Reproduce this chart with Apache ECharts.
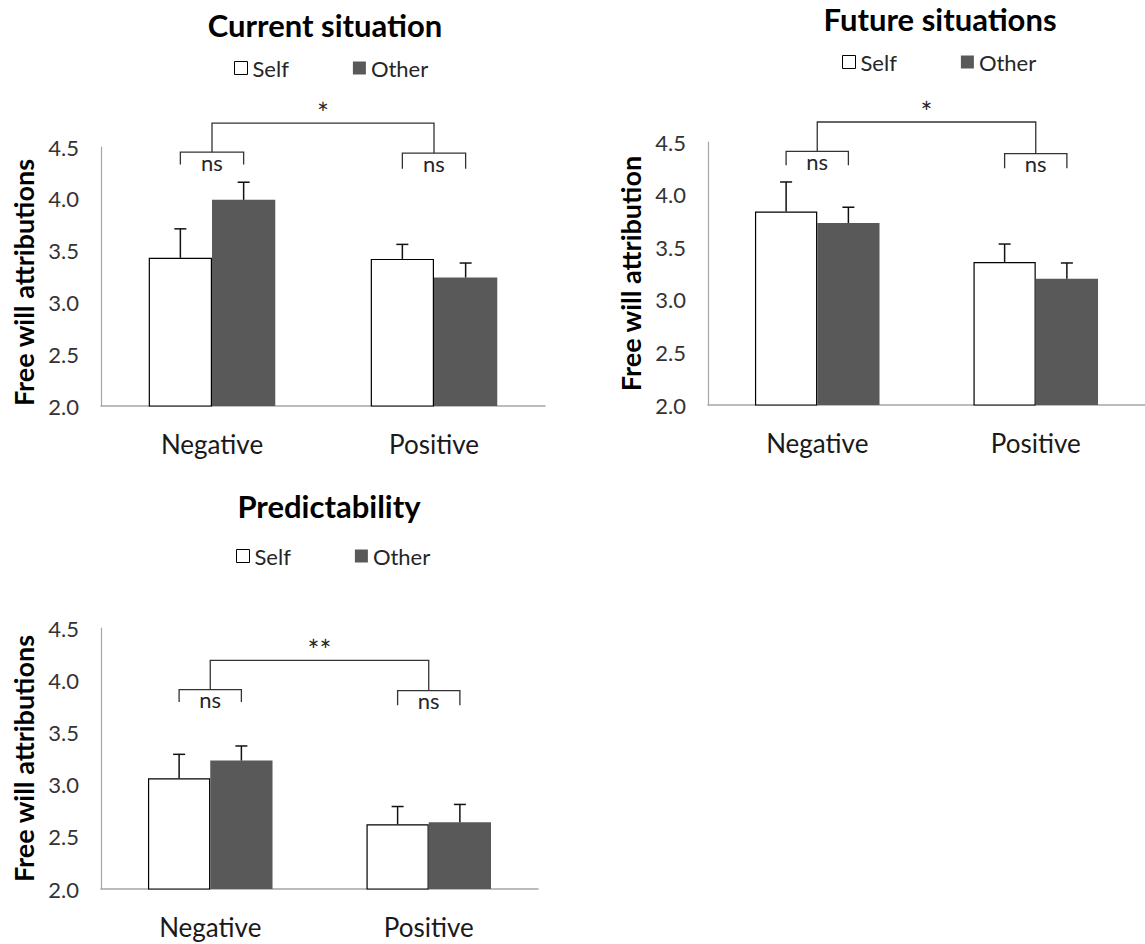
<!DOCTYPE html>
<html>
<head>
    <meta charset="utf-8">
    <title>Free will attributions</title>
    <script src="https://cdn.jsdelivr.net/npm/echarts@6/dist/echarts.min.js"></script>
</head>
<body style="margin:0; background:#fff;">
    <div id="chart" style="width: 1145px; height: 944px;"></div>
    <script>
        // categories shared by the three panels
        var categories = ['Negative', 'Positive'];

        // Current situation
        var currentSelf = [3.43, 3.42];
        var currentOther = [3.99, 3.24];
        var currentSelfTop = [3.71, 3.56];   // upper end of error bar
        var currentOtherTop = [4.16, 3.38];
        var currentPairSig = ['ns', 'ns'];
        var currentMainSig = '*';
        var currentPairY = [4.45, 4.44];     // bracket heights, in axis units
        var currentPairLeg = [4.33, 4.29];
        var currentMainY = 4.73;

        // Future situations
        var futureSelf = [3.84, 3.36];
        var futureOther = [3.73, 3.20];
        var futureSelfTop = [4.12, 3.53];
        var futureOtherTop = [3.88, 3.35];
        var futurePairSig = ['ns', 'ns'];
        var futureMainSig = '*';
        var futurePairY = [4.41, 4.39];
        var futurePairLeg = [4.28, 4.25];
        var futureMainY = 4.69;

        // Predictability
        var predSelf = [3.06, 2.62];
        var predOther = [3.23, 2.64];
        var predSelfTop = [3.29, 2.79];
        var predOtherTop = [3.37, 2.81];
        var predPairSig = ['ns', 'ns'];
        var predMainSig = '**';
        var predPairY = [3.91, 3.90];
        var predPairLeg = [3.79, 3.76];
        var predMainY = 4.19;

        var FONT = 'Lato';
        var GAP = 0.43;  // barCategoryGap as a fraction

        var panels = [
            {
                title: 'Current situation', yName: 'Free will attributions',
                self: currentSelf, other: currentOther, selfTop: currentSelfTop, otherTop: currentOtherTop,
                pairSig: currentPairSig, mainSig: currentMainSig,
                pairY: currentPairY, pairLeg: currentPairLeg, mainY: currentMainY,
                grid: { left: 101, top: 147, width: 444, height: 259 },
                titlePos: [325, 25], legendPos: [229, 52], nameShift: 6
            },
            {
                title: 'Future situations', yName: 'Free will attribution',
                self: futureSelf, other: futureOther, selfTop: futureSelfTop, otherTop: futureOtherTop,
                pairSig: futurePairSig, mainSig: futureMainSig,
                pairY: futurePairY, pairLeg: futurePairLeg, mainY: futureMainY,
                grid: { left: 708, top: 142, width: 444, height: 263 },
                titlePos: [940, 19], legendPos: [837, 46], nameShift: 0
            },
            {
                title: 'Predictability', yName: 'Free will attributions',
                self: predSelf, other: predOther, selfTop: predSelfTop, otherTop: predOtherTop,
                pairSig: predPairSig, mainSig: predMainSig,
                pairY: predPairY, pairLeg: predPairLeg, mainY: predMainY,
                grid: { left: 101, top: 628, width: 437, height: 261 },
                titlePos: [329, 506], legendPos: [231, 540], nameShift: 0
            }
        ];

        // half a bar width, from the category band
        function barOffset(api) {
            var band = api.size([1, 0])[0];
            return band * (1 - GAP) / 4;
        }

        function renderError(params, api) {
            var base = api.coord([api.value(0), api.value(1)]);
            var top = api.coord([api.value(0), api.value(2)]);
            var off = barOffset(api);
            var x = base[0] + (api.value(3) === 0 ? -off : off);
            var style = { stroke: '#111', lineWidth: 1.5 };
            return {
                type: 'group',
                children: [
                    { type: 'line', shape: { x1: x, y1: base[1], x2: x, y2: top[1] }, style: style },
                    { type: 'line', shape: { x1: x - 6, y1: top[1], x2: x + 6, y2: top[1] }, style: style }
                ]
            };
        }

        function makePairRender(labels) {
            return function (params, api) {
                var line = api.coord([api.value(0), api.value(1)]);
                var leg = api.coord([api.value(0), api.value(2)]);
                var off = barOffset(api);
                var x1 = line[0] - off, x2 = line[0] + off;
                return {
                    type: 'group',
                    children: [
                        {
                            type: 'polyline',
                            shape: { points: [[x1, leg[1]], [x1, line[1]], [x2, line[1]], [x2, leg[1]]] },
                            style: { stroke: '#333', lineWidth: 1.3, fill: null }
                        },
                        {
                            type: 'text',
                            style: {
                                text: labels[params.dataIndex], x: line[0], y: line[1] - 1,
                                align: 'center', verticalAlign: 'top',
                                font: '22px ' + FONT, fill: '#262626'
                            }
                        }
                    ]
                };
            };
        }

        function makeMainRender(label) {
            return function (params, api) {
                var a = api.coord([api.value(0), api.value(1)]);
                var b = api.coord([api.value(3), api.value(1)]);
                var legA = api.coord([api.value(0), api.value(2)]);
                var legB = api.coord([api.value(3), api.value(4)]);
                return {
                    type: 'group',
                    children: [
                        {
                            type: 'polyline',
                            shape: { points: [[a[0], legA[1]], [a[0], a[1]], [b[0], b[1]], [b[0], legB[1]]] },
                            style: { stroke: '#333', lineWidth: 1.3, fill: null }
                        },
                        {
                            type: 'text',
                            style: {
                                text: label, x: (a[0] + b[0]) / 2, y: a[1] - 10,
                                align: 'center', verticalAlign: 'middle',
                                font: '28px ' + FONT, fill: '#262626'
                            }
                        }
                    ]
                };
            };
        }

        var option = {
            animation: false,
            backgroundColor: '#fff',
            grid: [], xAxis: [], yAxis: [], series: [], legend: [], graphic: []
        };

        panels.forEach(function (p, i) {
            option.grid.push(p.grid);
            option.xAxis.push({
                type: 'category', gridIndex: i, data: categories,
                axisTick: { show: false },
                axisLine: { lineStyle: { color: '#a6a6a6', width: 1.5 } },
                axisLabel: { fontFamily: FONT, fontSize: 26, color: '#1a1a1a', margin: 25 }
            });
            option.yAxis.push({
                type: 'value', gridIndex: i, min: 2, max: 4.5, interval: 0.5,
                name: p.yName, nameLocation: 'middle', nameRotate: 90, nameGap: 64,
                nameTextStyle: {
                    fontFamily: FONT, fontWeight: 'bold', fontSize: 27, color: '#000',
                    padding: [0, p.nameShift * 2, 0, 0]
                },
                axisLine: { show: true, lineStyle: { color: '#a6a6a6', width: 1.2 } },
                axisTick: { show: false },
                splitLine: { show: false },
                axisLabel: {
                    fontFamily: FONT, fontSize: 22, color: '#333', margin: 22,
                    formatter: function (v) { return v.toFixed(1); }
                }
            });
            option.series.push({
                name: 'Self', type: 'bar', xAxisIndex: i, yAxisIndex: i, data: p.self,
                barGap: '0%', barCategoryGap: (GAP * 100) + '%',
                itemStyle: { color: '#ffffff', borderColor: '#000', borderWidth: 1.2 }
            });
            option.series.push({
                name: 'Other', type: 'bar', xAxisIndex: i, yAxisIndex: i, data: p.other,
                barGap: '0%', barCategoryGap: (GAP * 100) + '%',
                itemStyle: { color: '#595959' }
            });
            var errData = [];
            for (var k = 0; k < categories.length; k++) {
                errData.push([k, p.self[k], p.selfTop[k], 0]);
                errData.push([k, p.other[k], p.otherTop[k], 1]);
            }
            option.series.push({
                name: 'err' + i, type: 'custom', xAxisIndex: i, yAxisIndex: i, z: 5,
                renderItem: renderError, encode: { x: 0, y: 1 }, data: errData
            });
            option.series.push({
                name: 'pair' + i, type: 'custom', xAxisIndex: i, yAxisIndex: i, z: 5,
                renderItem: makePairRender(p.pairSig), encode: { x: 0, y: 1 },
                data: [[0, p.pairY[0], p.pairLeg[0]], [1, p.pairY[1], p.pairLeg[1]]]
            });
            option.series.push({
                name: 'main' + i, type: 'custom', xAxisIndex: i, yAxisIndex: i, z: 5,
                renderItem: makeMainRender(p.mainSig), encode: { x: 0, y: 1 },
                data: [[0, p.mainY, p.pairY[0], 1, p.pairY[1]]]
            });
            option.legend.push({
                left: p.legendPos[0], top: p.legendPos[1],
                itemWidth: 13, itemHeight: 13, itemGap: 64, icon: 'rect',
                selectedMode: false,
                textStyle: { fontFamily: FONT, fontSize: 22, color: '#262626' },
                data: [
                    { name: 'Self', itemStyle: { color: '#fff', borderColor: '#000', borderWidth: 1 } },
                    { name: 'Other' }
                ]
            });
            option.graphic.push({
                type: 'text', x: p.titlePos[0], y: p.titlePos[1],
                style: {
                    text: p.title, align: 'center', verticalAlign: 'middle',
                    font: 'bold 31px ' + FONT, fill: '#000'
                }
            });
        });

        var chart = echarts.init(document.querySelector('#chart'), null, { renderer: 'svg' });
        chart.setOption(option);
    </script>
</body>
</html>
